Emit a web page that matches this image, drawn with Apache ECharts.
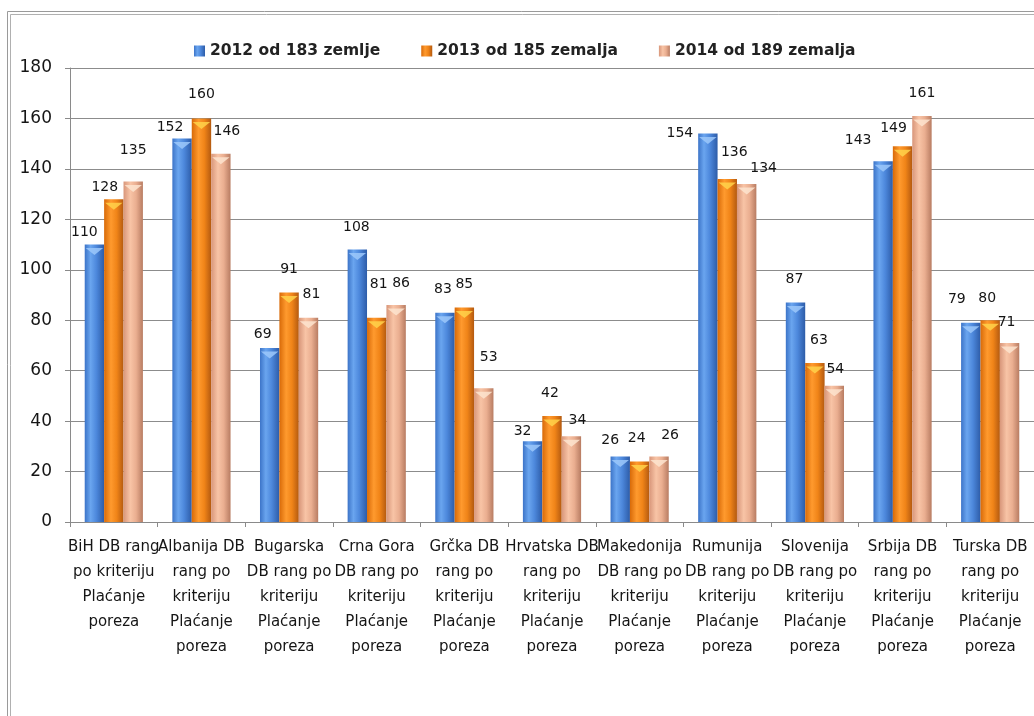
<!DOCTYPE html>
<html>
<head>
<meta charset="utf-8">
<title>DB rang po kriteriju Plaćanje poreza</title>
<script src="https://cdn.jsdelivr.net/npm/echarts@6/dist/echarts.min.js"></script>
<style>
  html, body { margin: 0; padding: 0; background: #ffffff; }
  #chart { width: 1034px; height: 716px; }
</style>
</head>
<body>
<div id="chart"></div>
<script>
// Categories (countries) and rankings per year
const categories = [
  'BiH DB rang\npo kriteriju\nPlaćanje\nporeza',
  'Albanija DB\nrang po\nkriteriju\nPlaćanje\nporeza',
  'Bugarska\nDB rang po\nkriteriju\nPlaćanje\nporeza',
  'Crna Gora\nDB rang po\nkriteriju\nPlaćanje\nporeza',
  'Grčka DB\nrang po\nkriteriju\nPlaćanje\nporeza',
  'Hrvatska DB\nrang po\nkriteriju\nPlaćanje\nporeza',
  'Makedonija\nDB rang po\nkriteriju\nPlaćanje\nporeza',
  'Rumunija\nDB rang po\nkriteriju\nPlaćanje\nporeza',
  'Slovenija\nDB rang po\nkriteriju\nPlaćanje\nporeza',
  'Srbija DB\nrang po\nkriteriju\nPlaćanje\nporeza',
  'Turska DB\nrang po\nkriteriju\nPlaćanje\nporeza'
];
const seriesNames = ['2012 od 183 zemlje', '2013 od 185 zemalja', '2014 od 189 zemalja'];
const values2012 = [110, 152, 69, 108, 83, 32, 26, 154, 87, 143, 79];
const values2013 = [128, 160, 91, 81, 85, 42, 24, 136, 63, 149, 80];
const values2014 = [135, 146, 81, 86, 53, 34, 26, 134, 54, 161, 71];
const yMin = 0, yMax = 180, yStep = 20;

// Per-label nudges [dx, dy] for the value labels
const labelNudge = [
  [[-10,0],[-12,1],[-7,-2],[-1,-10],[-2,-11],[-10,2],[-10,-4],[-28,12],[-1,-11],[-25,-9],[-14,-11]],
  [[-9,0],[0,-12],[0,-11],[2,-21],[0,-11],[-2,-11],[-3,-11],[7,-15],[4,-11],[-9,-6],[-3,-10]],
  [[0,-19],[6,-10],[3,-11],[5,-10],[5,-19],[6,-4],[11,-9],[17,-4],[1,-4],[0,-11],[-3,-9]]
];

const G = echarts.graphic.LinearGradient;
const barFills = [
  new G(0, 0, 1, 0, [
    { offset: 0, color: '#3c74c8' }, { offset: 0.3, color: '#6aa5ef' },
    { offset: 0.6, color: '#4d88dc' }, { offset: 1, color: '#2d5ca8' }
  ]),
  new G(0, 0, 1, 0, [
    { offset: 0, color: '#d86a08' }, { offset: 0.35, color: '#ff9a2e' },
    { offset: 0.65, color: '#f08418' }, { offset: 1, color: '#b45a10' }
  ]),
  new G(0, 0, 1, 0, [
    { offset: 0, color: '#d8967a' }, { offset: 0.35, color: '#f8c4a6' },
    { offset: 0.65, color: '#eaae90' }, { offset: 1, color: '#b87c62' }
  ])
];
const capFills = ['#9cc8fa', '#ffd24a', '#fde4cf'];
const allValues = [values2012, values2013, values2014];

const barSeries = allValues.map((vals, s) => ({
  name: seriesNames[s],
  type: 'bar',
  barGap: '0%',
  barCategoryGap: '33.6%',
  z: 2,
  itemStyle: { color: barFills[s] },
  data: vals.map((v, i) => ({
    value: v,
    label: { offset: labelNudge[s][i] }
  })),
  label: {
    show: true,
    position: 'top',
    distance: 5,
    color: '#151515',
    fontFamily: 'DejaVu Sans',
    fontSize: 14
  }
}));

// Lighter caps on top of each column
const capSeries = allValues.map((vals, s) => ({
  type: 'pictorialBar',
  barGap: '0%',
  barCategoryGap: '33.6%',
  z: 3,
  silent: true,
  symbol: 'path://M0,0 L10,0 L5,7 Z',
  symbolPosition: 'end',
  symbolSize: ['90%', 7],
  symbolOffset: [0, '50%'],
  itemStyle: { color: capFills[s], opacity: 0.85 },
  data: vals
}));

const chart = echarts.init(document.getElementById('chart'), null, { renderer: 'canvas' });
chart.setOption({
  backgroundColor: '#ffffff',
  animation: false,
  graphic: [
    { type: 'rect', shape: { x: 7.5, y: 11.5, width: 1100, height: 800 }, style: { fill: 'none', stroke: '#9a9a9a', lineWidth: 1 }, z: 0 },
    { type: 'rect', shape: { x: 10.5, y: 14.5, width: 1100, height: 800 }, style: { fill: 'none', stroke: '#b0b0b0', lineWidth: 1 }, z: 0 }
  ],
  legend: {
    data: seriesNames,
    left: 189,
    top: 38,
    icon: 'rect',
    itemWidth: 11,
    itemHeight: 11,
    itemGap: 41,
    textStyle: { fontFamily: 'DejaVu Sans', fontSize: 15.5, fontWeight: 'bold', color: '#222222' }
  },
  grid: { left: 70, right: -5, top: 68, bottom: 194 },
  xAxis: {
    type: 'category',
    data: categories,
    axisLine: { lineStyle: { color: '#8a8a8a' } },
    axisTick: { show: true, length: 5, lineStyle: { color: '#8a8a8a' } },
    axisLabel: {
      interval: 0,
      margin: 13,
      fontFamily: 'DejaVu Sans',
      fontSize: 15,
      lineHeight: 25,
      color: '#151515',
      align: 'center'
    }
  },
  yAxis: {
    type: 'value',
    min: yMin,
    max: yMax,
    interval: yStep,
    axisLine: { show: true, lineStyle: { color: '#8a8a8a' } },
    axisTick: { show: true, length: 5, lineStyle: { color: '#8a8a8a' } },
    axisLabel: { margin: 18, fontFamily: 'DejaVu Sans', fontSize: 17, color: '#151515' },
    splitLine: { lineStyle: { color: '#8c8c8c', width: 1 } }
  },
  series: barSeries.concat(capSeries)
});
</script>
</body>
</html>
